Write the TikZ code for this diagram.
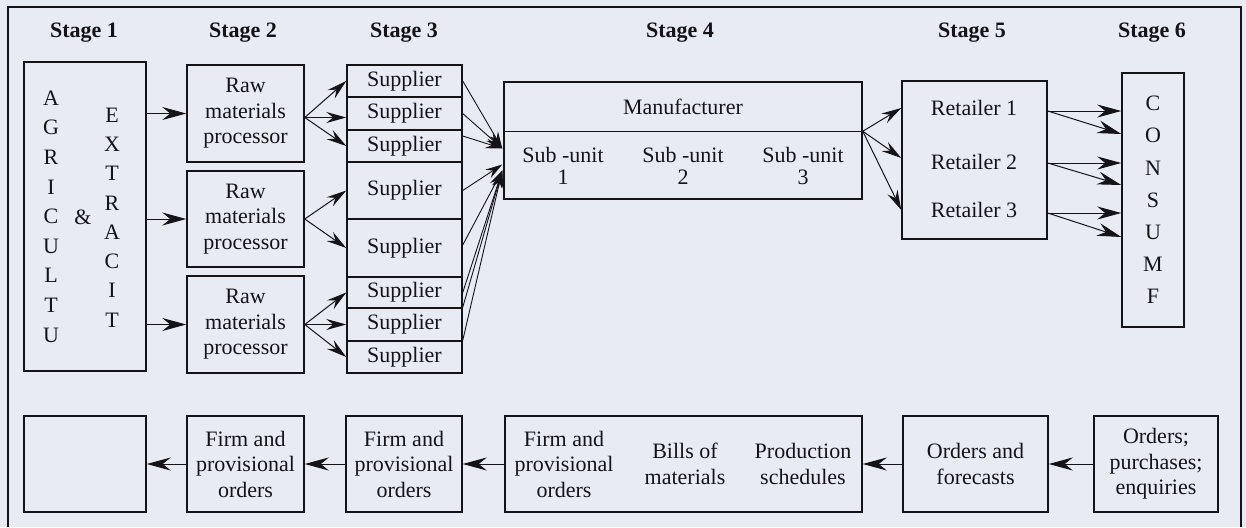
\documentclass[tikz,border=0pt]{standalone}
\usepackage{fontspec}
\setmainfont{Liberation Serif}
\usetikzlibrary{arrows.meta,calc}
\definecolor{paper}{RGB}{233,235,243}
\definecolor{ink}{RGB}{20,20,24}

\begin{document}
\begin{tikzpicture}[x=1pt,y=-1pt,
  font=\fontsize{22}{25.5}\selectfont,
  box/.style={draw=ink,line width=1.5pt,inner sep=0pt,align=center,text=ink},
  txt/.style={inner sep=0pt,align=center,text=ink},
  stagelabel/.style={txt,font=\fontsize{22}{25.5}\selectfont\bfseries},
  flow/.style={draw=ink,line width=1pt,-{Stealth[length=24pt,width=13pt,inset=8pt]}},
  fan/.style={draw=ink,line width=1pt,-{Stealth[length=20pt,width=11pt,inset=7pt]}},
  feed/.style={draw=ink,line width=0.9pt,-{Stealth[length=17pt,width=10pt,inset=6pt]}},
]
\useasboundingbox (0,0) rectangle (1246,527);
\fill[paper] (0,0) rectangle (1246,527);

% outer frame, open at the foot
\draw[ink,line width=1.8pt] (8,527) -- (8,7) -- (1241,7) -- (1241,527);

% stage headings
\node[stagelabel] (s1) at (84,33) {Stage 1};
\node[stagelabel] (s2) at (243,33) {Stage 2};
\node[stagelabel] (s3) at (404,33) {Stage 3};
\node[stagelabel] (s4) at (680,33) {Stage 4};
\node[stagelabel] (s5) at (972,33) {Stage 5};
\node[stagelabel] (s6) at (1152,33) {Stage 6};

% stage 1: agriculture & extraction
\node[box,minimum width=122pt,minimum height=309pt] (st1) at (85,216.5) {};
\node[txt,font=\fontsize{22}{29.6}\selectfont] (agr) at (51,216.5) {A\\G\\R\\I\\C\\U\\L\\T\\U};
\node[txt] (amp) at (83,217) {\&};
\node[txt,font=\fontsize{22}{29.3}\selectfont] (ext) at (112,217.5) {E\\X\\T\\R\\A\\C\\I\\T};

% stage 2: raw materials processors
\node[box,minimum width=117pt,minimum height=97pt] (raw1) at (245.5,113.5) {Raw\\materials\\processor};
\node[box,minimum width=117pt,minimum height=96pt] (raw2) at (245.5,219) {Raw\\materials\\processor};
\node[box,minimum width=117pt,minimum height=97pt] (raw3) at (245.5,324.5) {Raw\\materials\\processor};

% stage 3: suppliers
\node[box,minimum width=115pt,minimum height=32pt] (sup1) at (404.5,81) {Supplier};
\node[box,minimum width=115pt,minimum height=33pt] (sup2) at (404.5,113.5) {Supplier};
\node[box,minimum width=115pt,minimum height=32pt] (sup3) at (404.5,146) {Supplier};
\node[box,minimum width=115pt,minimum height=57pt] (sup4) at (404.5,190.5) {Supplier};
\node[box,minimum width=115pt,minimum height=58pt] (sup5) at (404.5,248) {Supplier};
\node[box,minimum width=115pt,minimum height=31pt] (sup6) at (404.5,292.5) {Supplier};
\node[box,minimum width=115pt,minimum height=33pt] (sup7) at (404.5,324.5) {Supplier};
\node[box,minimum width=115pt,minimum height=32pt] (sup8) at (404.5,357) {Supplier};

% stage 4: manufacturer
\node[box,minimum width=358pt,minimum height=117pt] (manu) at (683,140.5) {};
\coordinate (mdivL) at ($(manu.north west)+(0,50)$);
\coordinate (mdivR) at ($(manu.north east)+(0,50)$);
\draw[ink,line width=1.2pt] (mdivL) -- (mdivR);
\node[txt] (mlabel) at (683,107) {Manufacturer};
\node[txt,font=\fontsize{22}{22}\selectfont] (su1) at (563,166) {Sub -unit\\1};
\node[txt,font=\fontsize{22}{22}\selectfont] (su2) at (683,166) {Sub -unit\\2};
\node[txt,font=\fontsize{22}{22}\selectfont] (su3) at (803,166) {Sub -unit\\3};

% stage 5: retailers
\node[box,minimum width=145pt,minimum height=158pt] (ret) at (974.5,160) {};
\node[txt] (r1) at (974,108) {Retailer 1};
\node[txt] (r2) at (974,162) {Retailer 2};
\node[txt] (r3) at (974,210) {Retailer 3};

% stage 6: consumer
\node[box,minimum width=62pt,minimum height=254pt,font=\fontsize{22}{32.2}\selectfont] (cons) at (1153,200) {C\\O\\N\\S\\U\\M\\F};

% information flow row
\node[box,minimum width=122pt,minimum height=96pt] (b1) at (85,464) {};
\node[box,minimum width=117pt,minimum height=96pt] (b2) at (245.5,464) {Firm and\\provisional\\orders};
\node[box,minimum width=116pt,minimum height=96pt] (b3) at (404,464) {Firm and\\provisional\\orders};
\node[box,minimum width=357pt,minimum height=96pt] (b4) at (683.5,464) {};
\node[txt] (bt1) at (564,464) {Firm and\\provisional\\orders};
\node[txt] (bt2) at (685,464) {Bills of\\materials};
\node[txt] (bt3) at (803,464) {Production\\schedules};
\node[box,minimum width=145pt,minimum height=96pt] (b5) at (975.5,464) {Orders and\\forecasts};
\node[box,minimum width=124pt,minimum height=96pt] (b6) at (1156,464) {Orders;\\purchases;\\enquiries};

% stage 1 -> stage 2
\draw[flow] (st1.east |- raw1) -- (raw1.west);
\draw[flow] (st1.east |- raw2) -- (raw2.west);
\draw[flow] (st1.east |- raw3) -- (raw3.west);

% stage 2 -> stage 3
\coordinate (f1) at ($(raw1.east)+(0,4)$);
\draw[fan] (f1) -- (sup1.west);
\draw[fan] (f1) -- ($(sup2.west)+(0,4)$);
\draw[fan] (f1) -- (sup3.west);
\draw[fan] (raw2.east) -- (sup4.west);
\draw[fan] (raw2.east) -- (sup5.west);
\draw[fan] (raw3.east) -- (sup6.west);
\draw[fan] (raw3.east) -- (sup7.west);
\draw[fan] (raw3.east) -- (sup8.west);

% stage 3 -> stage 4
\coordinate (m1) at ($(manu.west)+(-1,8)$);
\coordinate (m2) at ($(manu.west)+(-1,24)$);
\coordinate (m3) at ($(manu.west)+(-1,30)$);
\draw[feed] (sup1.east) -- (m1);
\draw[feed] (sup2.east) -- (m1);
\draw[feed] ($(sup3.east)+(0,-10)$) -- (m1);
\draw[feed] (sup4.east) -- (m2);
\draw[feed] ($(sup5.east)+(0,-3)$) -- (m3);
\draw[feed] (sup6.east) -- (m3);
\draw[feed] (sup7.north east) -- (m3);
\draw[feed] (sup8.north east) -- (m3);

% stage 4 -> stage 5
\draw[fan] (mdivR) -- (ret.west |- r1);
\draw[fan] (mdivR) -- ($(ret.west |- r2)+(0,-4)$);
\draw[fan] (mdivR) -- (ret.west |- r3);

% stage 5 -> stage 6
\draw[flow] ($(ret.east |- r1)+(0,3)$) -- ($(cons.west |- r1)+(0,3)$);
\draw[flow] ($(ret.east |- r1)+(0,3)$) -- ($(cons.west |- r1)+(0,26)$);
\draw[flow] ($(ret.east |- r2)+(0,1)$) -- ($(cons.west |- r2)+(0,1)$);
\draw[flow] ($(ret.east |- r2)+(0,1)$) -- ($(cons.west |- r2)+(0,23)$);
\draw[flow] ($(ret.east |- r3)+(0,3)$) -- ($(cons.west |- r3)+(0,3)$);
\draw[flow] ($(ret.east |- r3)+(0,3)$) -- ($(cons.west |- r3)+(0,27)$);

% orders flowing back upstream
\draw[flow] (b6.west) -- (b5.east);
\draw[flow] (b5.west) -- (b4.east);
\draw[flow] (b4.west) -- (b3.east);
\draw[flow] (b3.west) -- (b2.east);
\draw[flow] (b2.west) -- (b1.east);
\end{tikzpicture}
\end{document}
